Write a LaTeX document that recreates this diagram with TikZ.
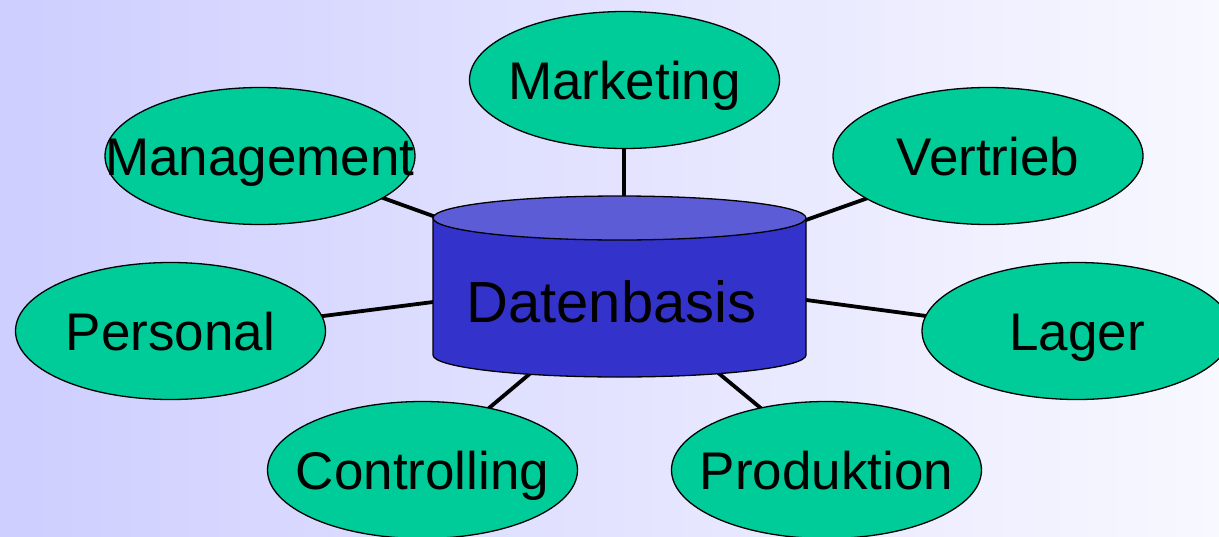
\documentclass[tikz,border=0pt]{standalone}
\usepackage{fontspec}
\setmainfont{Liberation Sans}
\usetikzlibrary{shapes.geometric}
\pgfdeclarelayer{back}
\pgfdeclarelayer{conn}
\pgfsetlayers{back,conn,main}
\definecolor{bgleft}{RGB}{206,206,255}
\definecolor{bgright}{RGB}{248,248,255}
\definecolor{dept}{RGB}{0,204,153}
\definecolor{dbbody}{RGB}{51,51,204}
\definecolor{dbtop}{RGB}{92,92,214}
\newcommand\zerowd[1]{\makebox[0pt][c]{#1}}
\tikzset{
  deptbox/.style={ellipse, draw=black, line width=1.3pt, fill=dept,
    minimum width=310pt, minimum height=137pt, inner sep=0pt,
    font=\fontsize{53}{60}\selectfont, text height=38pt, text depth=0pt},
  dbtext/.style={inner sep=0pt, font=\fontsize{58}{66}\selectfont,
    text height=41pt, text depth=0pt},
  link/.style={line width=3.8pt, black}
}
\begin{document}
\begin{tikzpicture}[x=1pt,y=-1pt]
\useasboundingbox (0,0) rectangle (1219,536);
\clip (0,0) rectangle (1219,536);
\begin{pgfonlayer}{back}
  \shade[left color=bgleft, right color=bgright] (0,0) rectangle (1219,536);
\end{pgfonlayer}

% department ellipses
\node[deptbox] (mkt)  at (624.5,80)  {\zerowd{Marketing}};
\node[deptbox] (mgmt) at (260,156)   {\zerowd{Management}};
\node[deptbox] (vtr)  at (988,156)   {\zerowd{Vertrieb}};
\node[deptbox] (pers) at (170.5,331) {\zerowd{Personal}};
\node[deptbox] (lag)  at (1077,331)  {\zerowd{Lager}};
\node[deptbox] (ctrl) at (422.5,470) {\zerowd{Controlling}};
\node[deptbox] (prod) at (826.5,470) {\zerowd{Produktion}};

% database cylinder
\fill[dbbody] (433,218) -- (433,355)
  arc[start angle=180,end angle=360,x radius=186.5pt,y radius=22pt]
  -- (806,218) -- cycle;
\draw[line width=1.3pt] (433,218) -- (433,355)
  arc[start angle=180,end angle=360,x radius=186.5pt,y radius=22pt]
  -- (806,218);
\draw[line width=1.3pt, fill=dbtop] (619.5,218) ellipse[x radius=186.5pt,y radius=22pt];
\node[dbtext] (db) at (611.5,302) {Datenbasis};

% connector end points inside the shapes
\coordinate (mkt-e)  at (624,140);
\coordinate (db-n)   at (624,205);
\coordinate (mgmt-e) at (360,189.7);
\coordinate (db-nw)  at (460,225.7);
\coordinate (vtr-e)  at (890,190.2);
\coordinate (db-ne)  at (780,229.2);
\coordinate (pers-e) at (290,320.2);
\coordinate (db-w)   at (460,298.6);
\coordinate (lag-e)  at (950,319.2);
\coordinate (db-e)   at (780,296.5);
\coordinate (ctrl-e) at (470,424);
\coordinate (db-sw)  at (545,361);
\coordinate (prod-e) at (780,424);
\coordinate (db-se)  at (705,362);

\begin{pgfonlayer}{conn}
  \draw[link] (mkt-e)  -- (db-n);
  \draw[link] (mgmt-e) -- (db-nw);
  \draw[link] (vtr-e)  -- (db-ne);
  \draw[link] (pers-e) -- (db-w);
  \draw[link] (lag-e)  -- (db-e);
  \draw[link] (ctrl-e) -- (db-sw);
  \draw[link] (prod-e) -- (db-se);
\end{pgfonlayer}
\end{tikzpicture}
\end{document}
